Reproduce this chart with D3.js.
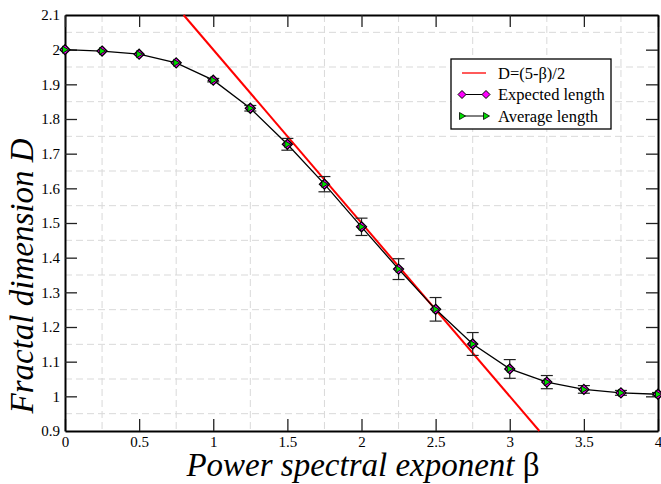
<!DOCTYPE html>
<html lang="en">
<head>
<meta charset="utf-8">
<script src="https://d3js.org/d3.v7.min.js"></script>
<style>
  body { margin: 0; background: #fff; }
  svg { display: block; }
  svg text { font-family: "Liberation Serif", "Times New Roman", "DejaVu Serif", serif; }
  .grid line { stroke: #d9d9d9; stroke-width: 1; stroke-dasharray: 7,4; }
  .axis path { stroke: #000; stroke-width: 2; }
  .axis line { stroke: #222; stroke-width: 1.3; }
</style>
</head>
<body>
<svg id="chart" width="661" height="484"></svg>
<script>
// beta values and the two measured series (they overlap)
let betas = [0, 0.25, 0.5, 0.75, 1, 1.25, 1.5, 1.75, 2, 2.25, 2.5, 2.75, 3, 3.25, 3.5, 3.75, 4]
let expected = [2.0, 1.996, 1.987, 1.962, 1.912, 1.831, 1.727, 1.612, 1.489, 1.367, 1.251, 1.151, 1.079, 1.041, 1.020, 1.010, 1.006]
let average = [2.0, 1.996, 1.987, 1.962, 1.912, 1.831, 1.727, 1.612, 1.489, 1.367, 1.251, 1.151, 1.079, 1.041, 1.020, 1.010, 1.006]
let errors = [0.001, 0.002, 0.003, 0.004, 0.005, 0.008, 0.017, 0.022, 0.025, 0.03, 0.034, 0.033, 0.027, 0.019, 0.011, 0.007, 0.005]
let xTicks = [0, 0.5, 1, 1.5, 2, 2.5, 3, 3.5, 4]
let yTicks = [0.9, 1, 1.1, 1.2, 1.3, 1.4, 1.5, 1.6, 1.7, 1.8, 1.9, 2, 2.1]
let xGrid = [0.25, 0.75, 1.25, 1.75, 2.25, 2.75, 3.25, 3.75]
let yGrid = [0.95, 1.05, 1.15, 1.25, 1.35, 1.45, 1.55, 1.65, 1.75, 1.85, 1.95, 2.05]
let theory = [0.8, 3.2] // ends of D=(5-beta)/2 inside the frame
let legendLabels = ["D=(5-\u03b2)/2", "Expected length", "Average length"]

let margin = {top: 15, right: 3, bottom: 53, left: 65}
let width = 661 - margin.left - margin.right
let height = 484 - margin.top - margin.bottom

let svg = d3.select("#chart")
let g = svg.append("g").attr("transform", `translate(${margin.left},${margin.top})`)

let x = d3.scaleLinear().domain([0, 4]).range([0, width])
let y = d3.scaleLinear().domain([0.9, 2.1]).range([height, 0])
let fmt = d => +d.toFixed(1)

// dashed grid at the half steps
g.append("g").attr("class", "grid").selectAll("line").data(xGrid).enter().append("line")
  .attr("x1", d => x(d)).attr("x2", d => x(d)).attr("y1", 0).attr("y2", height)
g.append("g").attr("class", "grid").selectAll("line").data(yGrid).enter().append("line")
  .attr("y1", d => y(d)).attr("y2", d => y(d)).attr("x1", 0).attr("x2", width)

// axes, ticks pointing inward
let axes = []
axes.push(g.append("g").attr("transform", `translate(0,${height})`)
  .call(d3.axisBottom(x).tickValues(xTicks).tickFormat(fmt).tickSizeInner(-12).tickSizeOuter(0).tickPadding(5)))
axes.push(g.append("g")
  .call(d3.axisLeft(y).tickValues(yTicks).tickFormat(fmt).tickSizeInner(-12).tickSizeOuter(0).tickPadding(5)))
axes.push(g.append("g")
  .call(d3.axisTop(x).tickValues(xTicks).tickFormat("").tickSizeInner(-12).tickSizeOuter(0)))
axes.push(g.append("g").attr("transform", `translate(${width},0)`)
  .call(d3.axisRight(y).tickValues(yTicks).tickFormat("").tickSizeInner(-12).tickSizeOuter(0)))
axes.forEach(a => {
  a.attr("class", "axis").attr("font-family", null).attr("font-size", 15)
  a.selectAll("text").attr("fill", "#000")
  a.selectAll(".tick").filter(d => d == 0.9 || d == 2.1).select("line").remove()
})

// theoretical line
let plot = g.append("g")
plot.append("path").datum(theory)
  .attr("d", d3.line().x(b => x(b)).y(b => y((5 - b) / 2)))
  .attr("fill", "none").attr("stroke", "#ff0000").attr("stroke-width", 2)

// connecting line
let pts = betas.map((b, i) => ({b: b, e: expected[i], a: average[i], err: errors[i]}))
plot.append("path").datum(pts)
  .attr("d", d3.line().x(d => x(d.b)).y(d => y(d.a)))
  .attr("fill", "none").attr("stroke", "#000").attr("stroke-width", 1.3)

// error bars
let eb = plot.selectAll(".err").data(pts.filter(d => d.err > 0.004)).enter().append("g").attr("class", "err")
  .attr("stroke", "#222").attr("stroke-width", 1.2)
eb.append("line").attr("x1", d => x(d.b)).attr("x2", d => x(d.b)).attr("y1", d => y(d.a - d.err)).attr("y2", d => y(d.a + d.err))
eb.append("line").attr("x1", d => x(d.b) - 6).attr("x2", d => x(d.b) + 6).attr("y1", d => y(d.a - d.err)).attr("y2", d => y(d.a - d.err))
eb.append("line").attr("x1", d => x(d.b) - 6).attr("x2", d => x(d.b) + 6).attr("y1", d => y(d.a + d.err)).attr("y2", d => y(d.a + d.err))

let diamond = "M0,-5L5,0L0,5L-5,0Z"
let tri = "M-2.5,-3.5L3.5,0L-2.5,3.5Z"
plot.selectAll(".dia").data(pts).enter().append("path").attr("class", "dia")
  .attr("d", diamond).attr("transform", d => `translate(${x(d.b)},${y(d.e)})`)
  .attr("fill", "#ff00ff").attr("stroke", "#000").attr("stroke-width", 1.3)
plot.selectAll(".tri").data(pts).enter().append("path").attr("class", "tri")
  .attr("d", tri).attr("transform", d => `translate(${x(d.b)},${y(d.a)})`)
  .attr("fill", "#00dd00").attr("stroke", "#000").attr("stroke-width", 0.8)

// legend
let lg = g.append("g").attr("transform", `translate(${451 - margin.left},${59 - margin.top})`)
lg.append("rect").attr("width", 160).attr("height", 70).attr("fill", "#fff").attr("stroke", "#000").attr("stroke-width", 1.3)
let rows = lg.selectAll(".row").data(legendLabels).enter().append("g")
  .attr("transform", (d, i) => `translate(0,${14 + i * 21.5})`)
rows.append("text").attr("x", 47).attr("y", 5.5).text(d => d).attr("font-size", 16.5)
rows.filter((d, i) => i == 0).append("line").attr("x1", 11).attr("x2", 35).attr("stroke", "#ff0000").attr("stroke-width", 1.3)
rows.filter((d, i) => i > 0).append("line").attr("x1", 11).attr("x2", 35).attr("stroke", "#000").attr("stroke-width", 1)
rows.filter((d, i) => i == 1).selectAll("path").data([11, 35]).enter().append("path")
  .attr("d", "M0,-4L4,0L0,4L-4,0Z").attr("transform", d => `translate(${d},0)`)
  .attr("fill", "#ff00ff").attr("stroke", "#000").attr("stroke-width", 1)
rows.filter((d, i) => i == 2).selectAll("path").data([11, 35]).enter().append("path")
  .attr("d", tri).attr("transform", d => `translate(${d},0)`)
  .attr("fill", "#00dd00").attr("stroke", "#000").attr("stroke-width", 0.8)

// axis titles
let xt = svg.append("text").attr("x", 363).attr("y", 476).attr("text-anchor", "middle")
  .attr("font-size", 33).attr("font-style", "italic")
xt.append("tspan").text("Power spectral exponent ")
xt.append("tspan").attr("font-style", "normal").text("\u03b2")
svg.append("text").attr("transform", "translate(33,276) rotate(-90)").attr("text-anchor", "middle")
  .attr("font-size", 33).attr("font-style", "italic").text("Fractal dimension D")
</script>
</body>
</html>
